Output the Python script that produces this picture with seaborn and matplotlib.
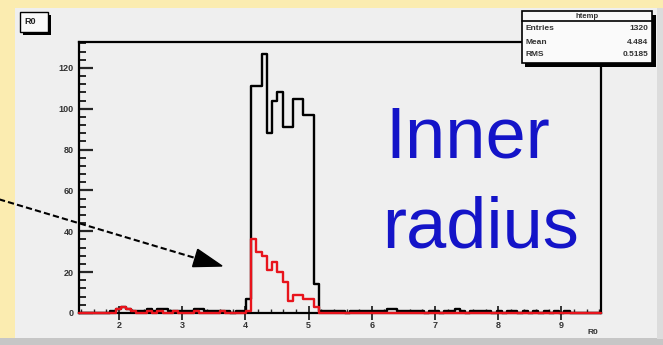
import numpy as np
import pandas as pd
import matplotlib
matplotlib.use("Agg")
import matplotlib.pyplot as plt
import seaborn as sns
from matplotlib.patches import Rectangle, Polygon
from matplotlib.lines import Line2D
from matplotlib.ticker import MultipleLocator

# R0 histogram binning (100 equal bins)
x_min, x_max, n_bins = 1.368, 9.625, 100

# all candidates, counts per bin
all_counts = [
    0, 0, 0, 0, 0, 0, 1, 2, 3, 2, 1, 1, 1, 2, 1, 2, 2, 1, 1, 1,
    1, 1, 2, 2, 1, 1, 1, 1, 1, 0, 1, 1, 7, 111, 111, 127, 88, 104, 108, 91,
    91, 105, 105, 97, 97, 14, 1, 1, 1, 1, 1, 0, 1, 1, 1, 1, 1, 1, 1, 2,
    2, 1, 1, 1, 1, 1, 0, 1, 1, 0, 1, 1, 2, 1, 0, 1, 1, 1, 1, 0,
    1, 0, 1, 1, 0, 1, 0, 1, 0, 1, 0, 1, 0, 1, 0, 0, 0, 0, 0, 0,
]

# selected subset, counts per bin
selected_counts = [
    0, 0, 0, 0, 0, 0, 0, 2, 3, 2, 1, 0, 0, 1, 0, 1, 0, 0, 1, 0,
    0, 0, 1, 0, 0, 0, 0, 1, 0, 0, 0, 0, 1, 36, 30, 28, 21, 25, 20, 15,
    6, 9, 9, 7, 7, 3, 0, 0, 0, 0, 0, 0, 0, 0, 0, 0, 0, 0, 0, 0,
    0, 0, 0, 0, 0, 0, 0, 0, 0, 0, 0, 0, 0, 0, 0, 0, 0, 0, 0, 0,
    0, 0, 0, 0, 0, 0, 0, 0, 0, 0, 0, 0, 0, 0, 0, 0, 0, 0, 0, 0,
]

x_ticks = [2, 3, 4, 5, 6, 7, 8, 9]
y_ticks = [0, 20, 40, 60, 80, 100, 120]

stats_title = "htemp"
stats_rows = [("Entries", "1320"), ("Mean", "4.484"), ("RMS", "0.5185")]

W, H = 663, 345
sns.set_style("ticks")
plt.rcParams["font.family"] = ["Liberation Sans", "DejaVu Sans"]

fig = plt.figure(figsize=(W / 100, H / 100), dpi=100)
fig.patch.set_facecolor("#fbecb0")


def fx(x):
    return x / W


def fy(y):
    return 1 - y / H


def frect(x0, y0, x1, y1, **kw):
    r = Rectangle((fx(x0), fy(y1)), (x1 - x0) / W, (y1 - y0) / H,
                  transform=fig.transFigure, figure=fig, **kw)
    fig.add_artist(r)
    return r


# canvas panel
frect(15, 8, 657, 339, facecolor="#efefef", edgecolor="none", zorder=-3)
frect(0, 338, 663, 345, facecolor="#c6c6c6", edgecolor="none", zorder=-2)
frect(657, 8, 663, 339, facecolor="#dcdcdc", edgecolor="none", zorder=-2)

ax = fig.add_axes([fx(79), fy(313), (601 - 79) / W, (313 - 42) / H])
ax.set_facecolor("#efefef")

edges = np.linspace(x_min, x_max, n_bins + 1)
centers = 0.5 * (edges[:-1] + edges[1:])
df = pd.DataFrame({"R0": centers, "all": all_counts, "selected": selected_counts})

sns.histplot(data=df, x="R0", weights="all", bins=n_bins, binrange=(x_min, x_max),
             element="step", fill=False, color="black", linewidth=1.7, ax=ax)
sns.histplot(data=df, x="R0", weights="selected", bins=n_bins, binrange=(x_min, x_max),
             element="step", fill=False, color="#e8141c", linewidth=1.7, ax=ax)
for ln in ax.lines:
    ln.set_clip_on(False)
    ln.set_zorder(3)

ax.set_xlim(x_min, x_max)
ax.set_ylim(0, 132.7)
ax.set_xlabel("")
ax.set_ylabel("")
ax.grid(False)
for s in ax.spines.values():
    s.set_visible(True)
    s.set_color("black")
    s.set_linewidth(1.6)

ax.set_xticks(x_ticks)
ax.set_xticklabels([str(t) for t in x_ticks])
ax.xaxis.set_minor_locator(MultipleLocator(0.2))
ax.set_yticks(y_ticks)
ax.set_yticklabels([str(t) for t in y_ticks])
ax.yaxis.set_minor_locator(MultipleLocator(4))
ax.tick_params(axis="x", which="major", direction="inout", length=10,
               width=1.3, labelsize=6.5, pad=1, labelcolor="#333333")
ax.tick_params(axis="x", which="minor", direction="in", length=3, width=1.0)
ax.tick_params(axis="y", which="major", direction="in", length=10,
               width=1.6, labelsize=6.5, pad=4, labelcolor="#333333")
ax.tick_params(axis="y", which="minor", direction="in", length=5, width=1.4)
for lab in ax.get_xticklabels() + ax.get_yticklabels():
    lab.set_fontweight("bold")

# axis title
fig.text(fx(598), fy(333), "R0", ha="right", va="center", fontsize=6,
         fontweight="bold", color="#333333")

# histogram title box
frect(23, 15, 51, 35, facecolor="black", edgecolor="none", zorder=4)
frect(20, 12, 48, 32, facecolor="#fafafa", edgecolor="black", linewidth=1.0, zorder=5)
fig.text(fx(24), fy(22), "R0", ha="left", va="center", fontsize=6.5,
         fontweight="bold", color="#222222", zorder=6)

# statistics box
frect(525, 15, 656, 67, facecolor="black", edgecolor="none", zorder=4)
frect(522, 11, 652, 63, facecolor="#fafafa", edgecolor="black", linewidth=1.2, zorder=5)
fig.add_artist(Line2D([fx(522), fx(652)], [fy(21), fy(21)], color="black",
                      linewidth=1.2, transform=fig.transFigure, zorder=6))
fig.text(fx(587), fy(16), stats_title, ha="center", va="center", fontsize=5.5,
         fontweight="bold", color="#333333", zorder=7)
for (name, val), yy in zip(stats_rows, [28, 42, 55]):
    fig.text(fx(526), fy(yy), name, ha="left", va="center", fontsize=6,
             fontweight="bold", color="#333333", zorder=7)
    fig.text(fx(648), fy(yy), val, ha="right", va="center", fontsize=6,
             fontweight="bold", color="#333333", zorder=7)

# annotation text
fig.text(fx(385), fy(158), "Inner", ha="left", va="baseline", fontsize=52,
         color="#1414c8", zorder=7)
fig.text(fx(382), fy(247), "radius", ha="left", va="baseline", fontsize=52,
         color="#1414c8", zorder=7)

# arrow pointing at the selected peak
tip = np.array([222.0, 266.0])
start = np.array([-2.0, 199.0])
u = (tip - start) / np.linalg.norm(tip - start)
perp = np.array([-u[1], u[0]])
base = tip - 28 * u
p1 = base + 9 * perp
p2 = base - 9 * perp
fig.add_artist(Line2D([fx(start[0]), fx(base[0])], [fy(start[1]), fy(base[1])],
                      color="black", linewidth=1.5, linestyle=(0, (3, 1.5)),
                      transform=fig.transFigure, zorder=8))
fig.add_artist(Polygon([[fx(tip[0]), fy(tip[1])], [fx(p1[0]), fy(p1[1])],
                        [fx(p2[0]), fy(p2[1])]], closed=True, facecolor="black",
                       edgecolor="black", transform=fig.transFigure, zorder=8))

fig.savefig("out.png", dpi=100, facecolor=fig.get_facecolor())
